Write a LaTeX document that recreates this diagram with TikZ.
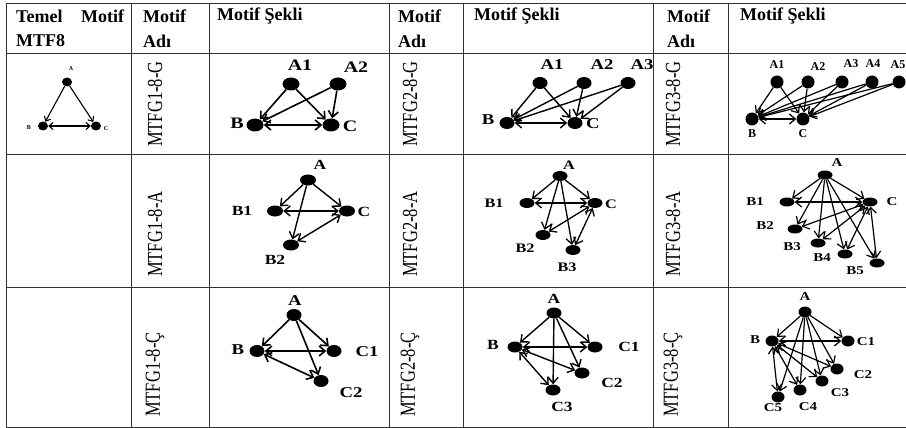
\documentclass[tikz,border=0pt]{standalone}
\usepackage{fontspec}
\setmainfont{Liberation Serif}
\usetikzlibrary{shapes.geometric,arrows.meta}
\begin{document}
\begin{tikzpicture}[x=1pt,y=-1pt,
  grid/.style={line width=0.9pt, draw=black!80},
  hdr/.style={font=\fontsize{18}{20}\selectfont\bfseries, anchor=west, inner sep=0pt},
  rot/.style={font=\fontsize{16.5}{18}\selectfont, rotate=90, anchor=west, inner sep=0pt},
  dot/.style 2 args={ellipse, fill=black, inner sep=0pt, minimum width=#1pt, minimum height=#2pt},
  lab/.style={font=\fontsize{#1}{#1}\selectfont\bfseries, inner sep=0pt},
  arr/.style={line width=1.6pt, -{Straight Barb[length=6pt,width=10pt]}},
  darr/.style={line width=1.6pt, {Straight Barb[length=6pt,width=10pt]}-{Straight Barb[length=6pt,width=10pt]}},
  sarr/.style={line width=1.1pt, -{Straight Barb[length=4pt,width=7pt]}},
  sdarr/.style={line width=1.1pt, {Straight Barb[length=4pt,width=7pt]}-{Straight Barb[length=4pt,width=7pt]}},
]
\newcommand\stx[1]{\scalebox{1.25}[1]{#1}}
\newcommand\rtx[1]{\scalebox{1}[1.3]{#1}}
\useasboundingbox (0,0) rectangle (906,428);
\fill[white] (0,0) rectangle (906,428);
% grid
\foreach \x in {6,131,209,389,463,653,728} \draw[grid] (\x,3) -- (\x,427);
\foreach \y in {3,53,154,287,427} \draw[grid] (6,\y) -- (906,\y);
% header
\node[hdr] (h1a) at (16,16) {\hbox to 108pt{Temel\hfil Motif}};
\node[hdr] (h1b) at (16,41) {MTF8};
\node[hdr] (h2a) at (143,16) {Motif};
\node[hdr] (h2b) at (143,41) {Adı};
\node[hdr] (h3) at (217,16) {Motif Şekli};
\node[hdr] (h4a) at (398,16) {Motif};
\node[hdr] (h4b) at (398,41) {Adı};
\node[hdr] (h5) at (474,16) {Motif Şekli};
\node[hdr] (h6a) at (667,16) {Motif};
\node[hdr] (h6b) at (667,41) {Adı};
\node[hdr] (h7) at (740,16) {Motif Şekli};
% rotated names
\node[rot] (n11) at (155,147) {\rtx{MTFG1-8-G}};
\node[rot] (n12) at (155,277) {\rtx{MTFG1-8-A}};
\node[rot] (n13) at (155,417) {\rtx{MTFG1-8-Ç}};
\node[rot] (n21) at (410,147) {\rtx{MTFG2-8-G}};
\node[rot] (n22) at (410,277) {\rtx{MTFG2-8-A}};
\node[rot] (n23) at (410,417) {\rtx{MTFG2-8-Ç}};
\node[rot] (n31) at (673,147) {\rtx{MTFG3-8-G}};
\node[rot] (n32) at (673,277) {\rtx{MTFG3-8-A}};
\node[rot] (n33) at (673,417) {\rtx{MTFG3-8-Ç}};

% Temel motif
\node[dot={10}{9}] (tA) at (67,82) {};
\node[dot={10}{9}] (tB) at (43,126) {};
\node[dot={10}{9}] (tC) at (96,126) {};
\node[lab=6] (ltA) at (71,69) {A};
\node[lab=6] (ltB) at (29,128) {B};
\node[lab=6] (ltC) at (106,129) {C};
\draw[sarr] (tA) -- (tB);
\draw[sarr] (tA) -- (tC);
\draw[sdarr] (tB) -- (tC);

% MTFG1-8-G
\node[dot={17}{13}] (aA1) at (291,84) {};
\node[dot={17}{13}] (aA2) at (338,84) {};
\node[dot={17}{13}] (aB) at (255,125) {};
\node[dot={17}{13}] (aC) at (331,125) {};
\node[lab=16] (laA1) at (300,65) {\stx{A1}};
\node[lab=16] (laA2) at (356,67) {\stx{A2}};
\node[lab=16] (laB) at (237,123) {\stx{B}};
\node[lab=16] (laC) at (350,126) {\stx{C}};
\draw[arr] (aA1) -- (aB);
\draw[arr] (aA1) -- (aC);
\draw[arr] (aA2) -- (aB);
\draw[arr] (aA2) -- (aC);
\draw[darr] (aB) -- (aC);

% MTFG2-8-G
\node[dot={15}{12}] (bA1) at (540,83) {};
\node[dot={15}{12}] (bA2) at (584,83) {};
\node[dot={15}{12}] (bA3) at (628,83) {};
\node[dot={15}{12}] (bB) at (507,123) {};
\node[dot={15}{12}] (bC) at (575,123) {};
\node[lab=15] (lbA1) at (552,65) {\stx{A1}};
\node[lab=15] (lbA2) at (602,65) {\stx{A2}};
\node[lab=15] (lbA3) at (642,65) {\stx{A3}};
\node[lab=15] (lbB) at (488,120) {\stx{B}};
\node[lab=15] (lbC) at (593,124) {\stx{C}};
\foreach \s in {bA1,bA2,bA3} {\draw[arr,line width=1.4pt] (\s) -- (bB); \draw[arr,line width=1.4pt] (\s) -- (bC);}
\draw[darr,line width=1.4pt] (bB) -- (bC);

% MTFG3-8-G
\node[dot={13}{13}] (cA1) at (777,82) {};
\node[dot={13}{13}] (cA2) at (808,82) {};
\node[dot={13}{13}] (cA3) at (842,82) {};
\node[dot={13}{13}] (cA4) at (872,82) {};
\node[dot={13}{13}] (cA5) at (899,82) {};
\node[lab=12] (lcA1) at (777,65) {A1};
\node[lab=12] (lcA2) at (818,67) {A2};
\node[lab=12] (lcA3) at (851,64) {A3};
\node[lab=12] (lcA4) at (873,64) {A4};
\node[lab=12] (lcA5) at (898,65) {A5};
\node[lab=12] (lcB) at (752,134) {B};
\node[lab=12] (lcC) at (803,134) {C};
\node[dot={13}{13}] (cB) at (752,119) {};
\node[dot={13}{13}] (cC) at (803,119) {};
\foreach \s in {cA1,cA2,cA3,cA4,cA5} {\draw[arr,line width=1.2pt] (\s) -- (cB); \draw[arr,line width=1.2pt] (\s) -- (cC);}
\draw[darr,line width=1.2pt] (cB) -- (cC);

% MTFG1-8-A
\node[dot={16}{11}] (dA) at (308,180) {};
\node[dot={16}{11}] (dB1) at (275,211) {};
\node[dot={16}{11}] (dC) at (347,211) {};
\node[dot={16}{11}] (dB2) at (291,245) {};
\node[lab=14] (ldA) at (320,165) {\stx{A}};
\node[lab=14] (ldB1) at (242,211) {\stx{B1}};
\node[lab=14] (ldC) at (364,212) {\stx{C}};
\node[lab=14] (ldB2) at (275,260) {\stx{B2}};
\draw[arr,line width=1.4pt] (dA) -- (dB1);
\draw[arr,line width=1.4pt] (dA) -- (dC);
\draw[arr,line width=1.4pt] (dA) -- (dB2);
\draw[darr,line width=1.4pt] (dB1) -- (dC);
\draw[darr,line width=1.4pt] (dB2) -- (dC);

% MTFG2-8-A
\node[dot={15}{10}] (eA) at (560,176) {};
\node[dot={15}{10}] (eB1) at (527,203) {};
\node[dot={15}{10}] (eC) at (595,203) {};
\node[dot={15}{10}] (eB2) at (543,235) {};
\node[dot={15}{10}] (eB3) at (573,250) {};
\node[lab=13] (leA) at (569,165) {\stx{A}};
\node[lab=13] (leB1) at (494,203) {\stx{B1}};
\node[lab=13] (leC) at (611,204) {\stx{C}};
\node[lab=13] (leB2) at (525,248) {\stx{B2}};
\node[lab=13] (leB3) at (567,267) {\stx{B3}};
\foreach \t in {eB1,eC,eB2,eB3} \draw[arr,line width=1.3pt] (eA) -- (\t);
\foreach \t in {eB1,eB2,eB3} \draw[darr,line width=1.3pt] (\t) -- (eC);

% MTFG3-8-A
\node[dot={15}{9}] (fA) at (825,175) {};
\node[dot={15}{9}] (fB1) at (787,202) {};
\node[dot={15}{9}] (fC) at (870,202) {};
\node[dot={15}{9}] (fB2) at (795,229) {};
\node[dot={15}{9}] (fB3) at (818,243) {};
\node[dot={15}{9}] (fB4) at (845,254) {};
\node[dot={15}{9}] (fB5) at (877,263) {};
\node[lab=12] (lfA) at (837,163) {\stx{A}};
\node[lab=12] (lfB1) at (755,202) {\stx{B1}};
\node[lab=12] (lfC) at (892,202) {\stx{C}};
\node[lab=12] (lfB2) at (765,226) {\stx{B2}};
\node[lab=12] (lfB3) at (792,247) {\stx{B3}};
\node[lab=12] (lfB4) at (822,258) {\stx{B4}};
\node[lab=12] (lfB5) at (855,271) {\stx{B5}};
\foreach \t in {fB1,fC,fB2,fB3,fB4,fB5} \draw[arr,line width=1.2pt] (fA) -- (\t);
\foreach \t in {fB1,fB2,fB3,fB4,fB5} \draw[darr,line width=1.2pt] (\t) -- (fC);

% MTFG1-8-C
\node[dot={15}{12}] (gA) at (294,315) {};
\node[dot={15}{12}] (gB) at (257,351) {};
\node[dot={15}{12}] (gC1) at (334,351) {};
\node[dot={15}{12}] (gC2) at (321,381) {};
\node[lab=15] (lgA) at (295,301) {\stx{A}};
\node[lab=15] (lgB) at (238,350) {\stx{B}};
\node[lab=15] (lgC1) at (367,352) {\stx{C1}};
\node[lab=15] (lgC2) at (351,393) {\stx{C2}};
\foreach \t in {gB,gC1,gC2} \draw[arr] (gA) -- (\t);
\foreach \t in {gC1,gC2} \draw[darr] (gB) -- (\t);

% MTFG2-8-C
\node[dot={15}{11}] (hA) at (554,313) {};
\node[dot={15}{11}] (hB) at (515,347) {};
\node[dot={15}{11}] (hC1) at (595,347) {};
\node[dot={15}{11}] (hC2) at (582,373) {};
\node[dot={15}{11}] (hC3) at (553,390) {};
\node[lab=14] (lhA) at (554,299) {\stx{A}};
\node[lab=14] (lhB) at (493,345) {\stx{B}};
\node[lab=14] (lhC1) at (629,347) {\stx{C1}};
\node[lab=14] (lhC2) at (612,383) {\stx{C2}};
\node[lab=14] (lhC3) at (562,407) {\stx{C3}};
\foreach \t in {hB,hC1,hC2,hC3} \draw[arr,line width=1.4pt] (hA) -- (\t);
\foreach \t in {hC1,hC2,hC3} \draw[darr,line width=1.4pt] (hB) -- (\t);

% MTFG3-8-C
\node[dot={13}{11}] (iA) at (805,312) {};
\node[dot={13}{11}] (iB) at (772,341) {};
\node[dot={13}{11}] (iC1) at (848,341) {};
\node[dot={13}{11}] (iC2) at (837,369) {};
\node[dot={13}{11}] (iC3) at (822,381) {};
\node[dot={13}{11}] (iC4) at (800,390) {};
\node[dot={13}{11}] (iC5) at (778,397) {};
\node[lab=12] (liA) at (805,297) {\stx{A}};
\node[lab=12] (liB) at (755,340) {\stx{B}};
\node[lab=12] (liC1) at (866,342) {\stx{C1}};
\node[lab=12] (liC2) at (863,375) {\stx{C2}};
\node[lab=12] (liC3) at (840,393) {\stx{C3}};
\node[lab=12] (liC4) at (808,407) {\stx{C4}};
\node[lab=12] (liC5) at (773,408) {\stx{C5}};
\foreach \t in {iB,iC1,iC2,iC3,iC4,iC5} \draw[arr,line width=1.2pt] (iA) -- (\t);
\foreach \t in {iC1,iC2,iC3,iC4,iC5} \draw[darr,line width=1.2pt] (iB) -- (\t);
\end{tikzpicture}
\end{document}
